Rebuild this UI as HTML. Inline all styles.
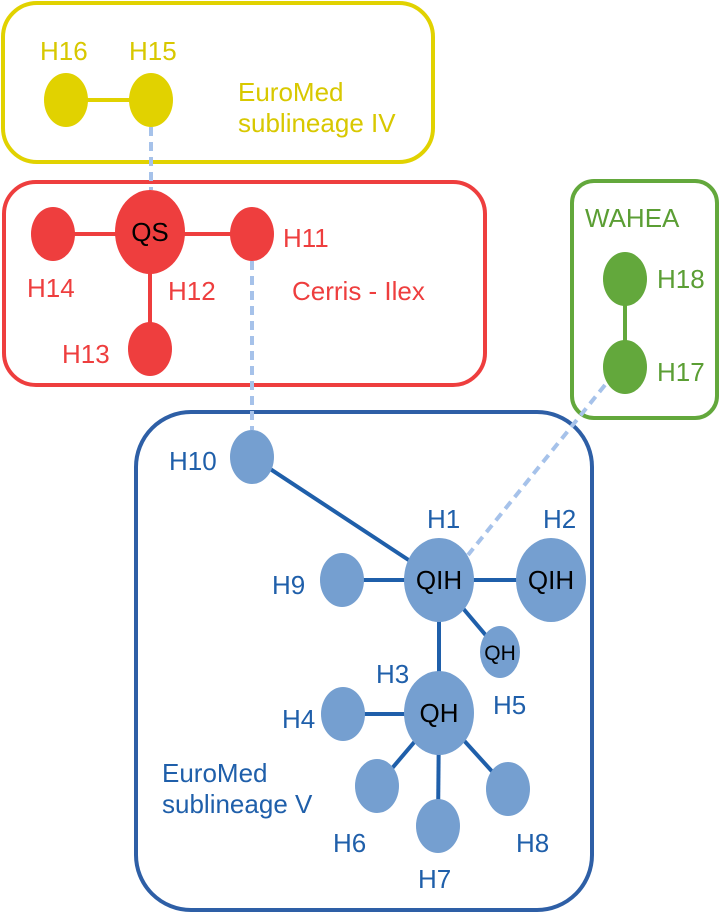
<!DOCTYPE html>
<html><head><meta charset="utf-8"><style>body{margin:0;background:#fff}svg{display:block}text{font-family:"Liberation Sans",sans-serif;font-size:26px}</style></head><body>
<svg width="723" height="916" viewBox="0 0 723 916">
<!-- boxes -->
<rect x="3" y="3" width="430" height="159" rx="34" fill="none" stroke="#e1d200" stroke-width="4"/>
<rect x="4" y="182" width="481" height="203" rx="32" fill="none" stroke="#ee3e3e" stroke-width="4"/>
<rect x="572" y="181" width="145" height="237" rx="22" fill="none" stroke="#63a83c" stroke-width="4"/>
<rect x="136" y="412" width="456" height="498" rx="55" fill="none" stroke="#2e5fa6" stroke-width="4"/>
<!-- dashed links -->
<g stroke="#a6c2ea" stroke-width="4" stroke-dasharray="9,6" fill="none">
<line x1="151" y1="127" x2="151" y2="190"/>
<line x1="252" y1="261" x2="252" y2="430"/>
<line x1="605" y1="385" x2="468" y2="555"/>
</g>
<!-- solid links -->
<line x1="66" y1="100" x2="151" y2="100" stroke="#e1d200" stroke-width="4"/>
<g stroke="#ee3e3e" stroke-width="4"><line x1="53" y1="234" x2="252" y2="234"/><line x1="150" y1="232" x2="150" y2="349"/></g>
<line x1="625" y1="279" x2="625" y2="367" stroke="#63a83c" stroke-width="4"/>
<g stroke="#1f5faa" stroke-width="4">
<line x1="252" y1="457" x2="439" y2="580"/>
<line x1="342" y1="580" x2="551" y2="580"/>
<line x1="439" y1="580" x2="500" y2="652"/>
<line x1="439" y1="580" x2="439" y2="713"/>
<line x1="343" y1="714" x2="439" y2="714"/>
<line x1="439" y1="713" x2="377" y2="786"/>
<line x1="439" y1="713" x2="438" y2="826"/>
<line x1="439" y1="713" x2="508" y2="789"/>
</g>
<!-- nodes -->
<g fill="#e1d200"><ellipse cx="66" cy="100" rx="22" ry="27"/><ellipse cx="151" cy="100" rx="22" ry="27"/></g>
<g fill="#ee3e3e"><ellipse cx="150" cy="232" rx="35" ry="42"/><ellipse cx="53" cy="234" rx="22" ry="27"/><ellipse cx="252" cy="234" rx="22" ry="27"/><ellipse cx="150" cy="349" rx="22" ry="27"/></g>
<g fill="#63a83c"><ellipse cx="625" cy="279" rx="22" ry="27"/><ellipse cx="625" cy="367" rx="22" ry="27"/></g>
<g fill="#759fd0">
<ellipse cx="252" cy="457" rx="22" ry="27"/>
<ellipse cx="439" cy="580" rx="35" ry="42"/>
<ellipse cx="551" cy="580" rx="35" ry="42"/>
<ellipse cx="342" cy="580" rx="22" ry="27"/>
<ellipse cx="500" cy="652" rx="20" ry="26"/>
<ellipse cx="439" cy="713" rx="35" ry="42"/>
<ellipse cx="343" cy="714" rx="22" ry="27"/>
<ellipse cx="377" cy="786" rx="22" ry="27"/>
<ellipse cx="438" cy="826" rx="22" ry="27"/>
<ellipse cx="508" cy="789" rx="22" ry="27"/>
</g>
<!-- labels -->
<g fill="#d8c800"><text x="40" y="60">H16</text><text x="129" y="60">H15</text><text x="238" y="101">EuroMed</text><text x="238" y="132">sublineage IV</text></g>
<text x="150" y="241" text-anchor="middle" fill="#000">QS</text>
<g fill="#ee3e3e"><text x="283" y="247">H11</text><text x="27" y="297">H14</text><text x="168" y="300">H12</text><text x="292" y="300">Cerris - Ilex</text><text x="62" y="363">H13</text></g>
<g fill="#5b9e34"><text x="585" y="227">WAHEA</text><text x="657" y="288">H18</text><text x="657" y="381">H17</text></g>
<g fill="#1f5faa">
<text x="169" y="470">H10</text><text x="427" y="528">H1</text><text x="543" y="528">H2</text><text x="272" y="594">H9</text>
<text x="376" y="683">H3</text><text x="493" y="714">H5</text><text x="282" y="728">H4</text>
<text x="162" y="782">EuroMed</text><text x="162" y="813">sublineage V</text>
<text x="333" y="852">H6</text><text x="418" y="888">H7</text><text x="516" y="852">H8</text>
</g>
<g fill="#000" text-anchor="middle"><text x="439" y="589">QIH</text><text x="551" y="589">QIH</text><text x="500" y="660" style="font-size:21px">QH</text><text x="439" y="722">QH</text></g>
</svg>
</body></html>
